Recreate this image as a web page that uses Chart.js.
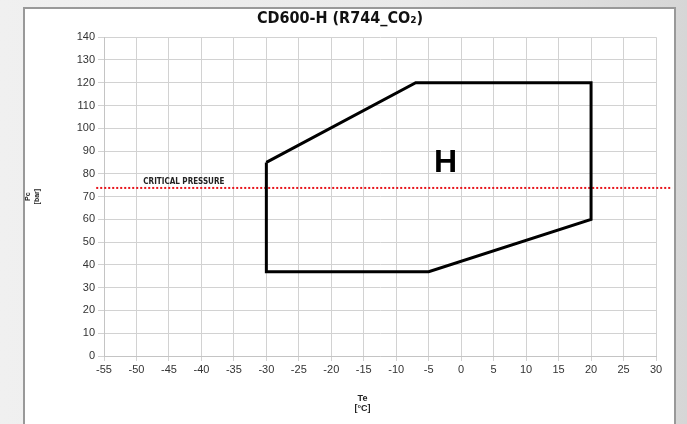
<!DOCTYPE html>
<html>
<head>
<meta charset="utf-8">
<script src="https://cdn.jsdelivr.net/npm/chart.js@4"></script>
<style>
  html, body { margin: 0; padding: 0; }
  body {
    width: 687px; height: 424px; overflow: hidden; position: relative;
    background: linear-gradient(90deg, #f0f0f0 0%, #e9e9e9 60%, #d6d6d6 100%);
  }
  #paneel {
    position: absolute; left: 23px; top: 7px; width: 649px; height: 430px;
    background: #fff; border: 2px solid #999;
  }
  #grafiek { position: absolute; left: 0; top: 0; }
</style>
</head>
<body>
<div id="paneel"></div>
<canvas id="grafiek" width="687" height="424"></canvas>
<script>
// envelope CD600-H: verdampingstemperatuur (Te) tegen druk (Pc)
const envelopTe = [-30, -7, 20, 20, -5, -30, -30];
const envelopPc = [85, 120, 120, 60, 37, 37, 85];

// kritische druk R744
const kritischeDruk = 73.8;
const kritischTe = [-56.2, 32.5];
const kritischLabel = "CRITICAL PRESSURE";
const kritischLabelPos = { x: -42.7, y: 76.3 };

const zoneLabel = "H";
const zoneLabelPos = { x: -2.4, y: 84.6 };

const xTicks = { min: -55, max: 30, stap: 5 };
const yTicks = { min: 0, max: 140, stap: 10 };

const titel = "CD600-H (R744_CO\u2082)";
const xTitel = ['Te', '[\u00b0C]'];
const xTitelTe = -15.2;

const envelopPunten = envelopTe.map((t, i) => ({ x: t, y: envelopPc[i] }));
const kritischPunten = kritischTe.map(t => ({ x: t, y: kritischeDruk }));

const tekstPlugin = {
    id: 'tekstLabels',
    afterDatasetsDraw(chart) {
        const ctx = chart.ctx;
        const sx = chart.scales.x, sy = chart.scales.y;
        ctx.save();
        ctx.fillStyle = '#222';
        ctx.textAlign = 'center';
        ctx.textBaseline = 'middle';
        ctx.font = 'bold 8px "DejaVu Sans Condensed", sans-serif';
        ctx.fillText(kritischLabel, sx.getPixelForValue(kritischLabelPos.x), sy.getPixelForValue(kritischLabelPos.y));

        // x-as titel staat onder -15, niet in het midden
        ctx.font = 'bold 9px "Liberation Sans", Arial, sans-serif';
        const tx = sx.getPixelForValue(xTitelTe);
        ctx.fillText(xTitel[0], tx, chart.chartArea.bottom + 43);
        ctx.fillText(xTitel[1], tx, chart.chartArea.bottom + 53);

        ctx.fillStyle = '#000';
        ctx.font = 'bold 32px "Liberation Sans", Arial, sans-serif';
        ctx.fillText(zoneLabel, sx.getPixelForValue(zoneLabelPos.x), sy.getPixelForValue(zoneLabelPos.y));
        ctx.restore();
    }
};

const ctx = document.getElementById('grafiek').getContext('2d');
new Chart(ctx, {
    type: 'scatter',
    data: {
        datasets: [
            {
                label: 'envelop',
                data: envelopPunten,
                showLine: true,
                borderColor: '#000',
                borderWidth: 3,
                pointRadius: 0,
                tension: 0
            },
            {
                label: 'kritische druk',
                data: kritischPunten,
                showLine: true,
                borderColor: '#e8141b',
                borderWidth: 2,
                borderDash: [2, 2],
                pointRadius: 0,
                clip: false
            }
        ]
    },
    options: {
        responsive: false,
        animation: false,
        layout: { padding: { left: 24, right: 31, top: 0, bottom: 10 } },
        plugins: {
            legend: { display: false },
            tooltip: { enabled: false },
            title: {
                display: true,
                text: titel,
                color: '#111',
                font: { family: '"DejaVu Sans Condensed", sans-serif', size: 16, weight: 'bold' },
                padding: { top: 9, bottom: 9 }
            }
        },
        scales: {
            x: {
                type: 'linear',
                min: xTicks.min,
                max: xTicks.max,
                ticks: { stepSize: xTicks.stap, color: '#333', font: { family: '"Liberation Sans", Arial, sans-serif', size: 11 }, padding: 2, maxRotation: 0 },
                grid: { color: '#d2d2d2', tickLength: 5 },
                border: { color: '#c4c4c4' },
                afterFit(scale) { scale.height = 58; }
            },
            y: {
                type: 'linear',
                min: yTicks.min,
                max: yTicks.max,
                ticks: { stepSize: yTicks.stap, color: '#333', font: { family: '"Liberation Sans", Arial, sans-serif', size: 11 }, padding: 3 },
                grid: { color: '#d2d2d2', tickLength: 6 },
                border: { color: '#c4c4c4' },
                title: {
                    display: true,
                    text: ['Pc', '[bar]'],
                    color: '#222',
                    font: { family: '"Liberation Sans", Arial, sans-serif', size: 7, weight: 'bold' },
                    padding: { top: 0, bottom: 0 }
                },
                afterFit(scale) { scale.width = 80; }
            }
        }
    },
    plugins: [tekstPlugin]
});
</script>
</body>
</html>
